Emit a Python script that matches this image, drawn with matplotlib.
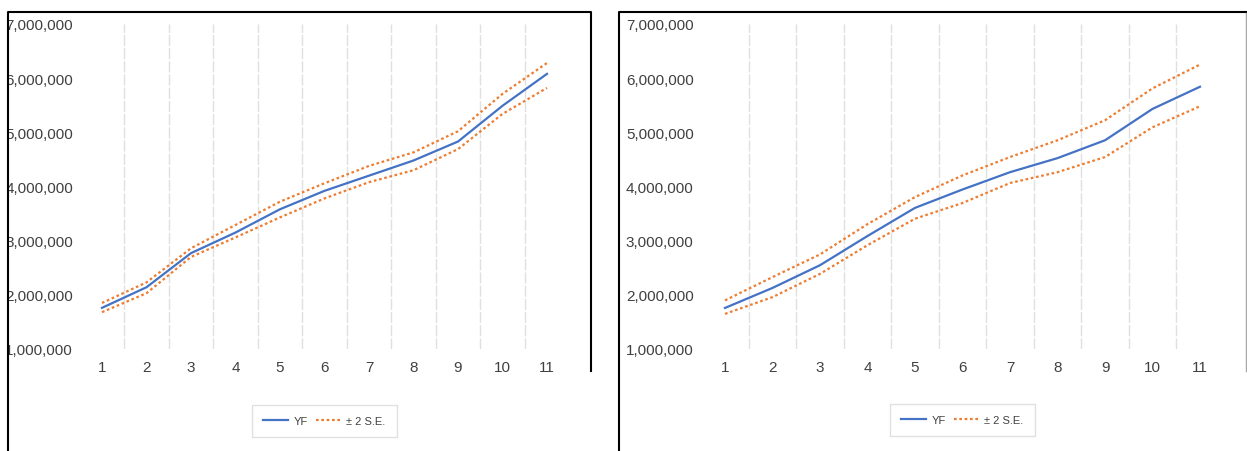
import matplotlib.pyplot as plt
from matplotlib.lines import Line2D
from matplotlib.patches import Rectangle
from matplotlib.ticker import FuncFormatter

plt.rcParams['font.family'] = ['Liberation Sans', 'DejaVu Sans']

W, H = 1247, 452

periods = [1, 2, 3, 4, 5, 6, 7, 8, 9, 10, 11]
yticks = [1e6, 2e6, 3e6, 4e6, 5e6, 6e6, 7e6]

# forecast and +/- 2 S.E. band, millions
left_yf = [1.76, 2.14, 2.77, 3.15, 3.58, 3.92, 4.20, 4.48, 4.83, 5.49, 6.08]
left_upper = [1.85, 2.23, 2.86, 3.29, 3.72, 4.06, 4.38, 4.63, 5.02, 5.71, 6.28]
left_lower = [1.68, 2.03, 2.70, 3.06, 3.43, 3.78, 4.08, 4.30, 4.69, 5.34, 5.82]

right_yf = [1.75, 2.12, 2.54, 3.08, 3.60, 3.94, 4.26, 4.52, 4.85, 5.43, 5.84]
right_upper = [1.89, 2.32, 2.74, 3.30, 3.80, 4.20, 4.54, 4.85, 5.22, 5.81, 6.25]
right_lower = [1.64, 1.95, 2.38, 2.91, 3.40, 3.69, 4.06, 4.26, 4.54, 5.09, 5.48]

BLUE = '#4472C4'
ORANGE = '#ED7D31'
TXT = '#404040'


def fx(px):
    return px / W


def fy(py):
    return 1 - py / H


def panel(ax, yf, upper, lower, ypad):
    m = 1e6
    ax.plot(periods, [v * m for v in yf], color=BLUE, lw=1.6, label='YF')
    ax.plot(periods, [v * m for v in upper], color=ORANGE, lw=1.6,
            linestyle=(0, (1.2, 1.2)), label='± 2 S.E.')
    ax.plot(periods, [v * m for v in lower], color=ORANGE, lw=1.6,
            linestyle=(0, (1.2, 1.2)))
    ax.set_xlim(0.5, 11.5)
    ax.set_ylim(1e6, 7e6)
    ax.set_xticks(periods)
    ax.set_xticks([p + 0.5 for p in periods[:-1]], minor=True)
    ax.set_yticks(yticks)
    ax.yaxis.set_major_formatter(FuncFormatter(lambda v, p: f'{int(v):,}'))
    ax.grid(which='minor', axis='x', color='#e0e0e0', lw=1.0,
            linestyle=(0, (8, 1.5)))
    ax.tick_params(which='both', length=0, labelsize=11, colors=TXT)
    ax.tick_params(axis='x', pad=8)
    ax.tick_params(axis='y', pad=ypad)
    for s in ax.spines.values():
        s.set_visible(False)
    leg = ax.legend(loc='center', bbox_to_anchor=(0.5, -0.2215), ncol=2,
                    frameon=True, fancybox=False, fontsize=8,
                    handlelength=2.2, borderpad=1.0, columnspacing=0.8,
                    handletextpad=0.5)
    leg.get_frame().set_edgecolor('#d9d9d9')
    leg.get_frame().set_linewidth(1.0)
    for t in leg.get_texts():
        t.set_color(TXT)


fig = plt.figure(figsize=(W / 100, H / 100), dpi=100)
fig.patch.set_facecolor('white')

ax1 = fig.add_axes([fx(79.75), fy(350), fx(489.5), 325 / H])
panel(ax1, left_yf, left_upper, left_lower, 4.9)

ax2 = fig.add_axes([fx(701.25), fy(349.5), fx(522.5), 324.5 / H])
panel(ax2, right_yf, right_upper, right_lower, 5.5)

# crop edge of the left box hides part of the first digit
fig.add_artist(Rectangle((0, 0), fx(7.5), 1, transform=fig.transFigure,
                         facecolor='white', edgecolor='none', zorder=5))

# box outlines
frame = dict(transform=fig.transFigure, color='black', lw=1.5, zorder=6)
fig.add_artist(Line2D([fx(8), fx(8), fx(591), fx(591)],
                      [fy(452), fy(13), fy(13), fy(372)], **frame))
fig.add_artist(Line2D([fx(619), fx(619), fx(1247)],
                      [fy(452), fy(13), fy(13)], **frame))
fig.add_artist(Line2D([fx(1246), fx(1246)], [fy(14), fy(372)],
                      transform=fig.transFigure, color='#a6a6a6', lw=1.0,
                      zorder=6))

fig.savefig('out.png', dpi=100)
